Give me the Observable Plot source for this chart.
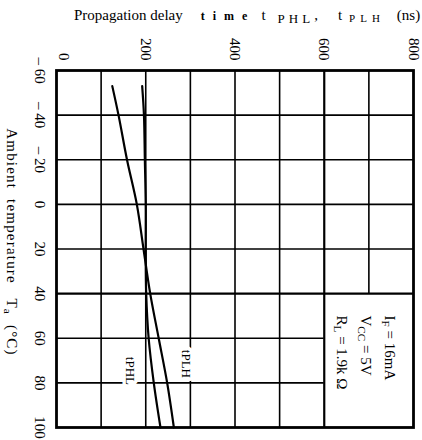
<!DOCTYPE html>
<html>
<head>
<meta charset="utf-8">
<script src="https://cdn.jsdelivr.net/npm/d3@7"></script>
<script src="https://cdn.jsdelivr.net/npm/@observablehq/plot@0.6"></script>
<style>
  html, body { margin: 0; padding: 0; background: #fff; }
  #chart { width: 422px; height: 440px; overflow: hidden; font-family: "Liberation Serif", "Times New Roman", "DejaVu Serif", serif; color: #000; }
  #title { height: 30px; line-height: 30px; font-size: 15px; white-space: nowrap; overflow: hidden; padding-left: 74px; }
  #title .w { letter-spacing: 8px; font-size: 12px; font-weight: bold; margin-left: 18px; }
  #title .t1 { margin-left: 6px; }
  #title .s1 { font-size: 13px; line-height: 0; vertical-align: -3px; letter-spacing: 4px; margin-left: 12px; }
  #title .t2 { margin-left: 20px; }
  #title .s2 { font-size: 11px; line-height: 0; vertical-align: -2px; letter-spacing: 5px; margin-left: 7px; }
  #title .u { margin-left: 12px; }
  svg { display: block; }
</style>
</head>
<body>
<div id="chart">
  <div id="title">Propagation delay<span class="w">time</span><span class="t1">t</span><span class="s1">PHL</span>,<span class="t2">t</span><span class="s2">PLH</span><span class="u">(ns)</span></div>
</div>
<script>
// Ambient temperature (°C) at which the delay curves are sampled
const temps = [-53, -40, -20, 0, 20, 40, 60, 80, 100];
// Propagation delay (ns), high-to-low and low-to-high transitions
const tPHL = [192, 196, 198, 200, 200, 201, 206.5, 218, 233];
const tPLH = [125, 139, 158, 180, 195, 210, 229, 248, 263];

// Axis ticks and grid
const delayTicks = [0, 200, 400, 600, 800];
const delayGrid = [100, 200, 300, 400, 500, 600, 700];
const tempTicks = [-60, -40, -20, 0, 20, 40, 60, 80, 100];
const tempTickLabels = ["– 60", "– 40", "– 20", "0", "20", "40", "60", "80", "100"];
const tempGrid = [-40, -20, 0, 20, 40, 60, 80];

// Series names and test conditions ({...} marks a subscript)
const seriesNames = ["tPHL", "tPLH"];
const conditions = ["I{F} = 16mA", "V{CC} = 5V", "R{L} = 1.9k Ω"];
const tempLabel = "Ambient\u00a0 temperature\u00a0\u00a0 T{a}\u00a0 (°C)";

const serif = '"Liberation Serif", "Times New Roman", "DejaVu Serif", serif';

const seriesValues = [tPHL, tPLH];
const curves = seriesNames.flatMap((name, s) =>
  temps.map((t, i) => ({series: name, temp: t, delay: seriesValues[s][i]}))
);
// curve labels sit next to each curve's 80 °C point
const labelTemp = 80;
const labels = seriesNames.map((name, s) => ({
  series: name, temp: labelTemp, delay: seriesValues[s][temps.indexOf(labelTemp)]
}));

const tickText = {frameAnchor: "top", dy: -10, rotate: 90, textAnchor: "end", lineAnchor: "middle", text: d => String(d), fontSize: 15, fill: "#000"};

const plot = Plot.plot({
  width: 422,
  height: 410,
  marginTop: 40,
  marginBottom: 13,
  marginLeft: 56,
  marginRight: 9,
  x: {domain: [0, 800], axis: null},
  y: {domain: [-60, 100], reverse: true, axis: null},
  style: {fontFamily: serif, fontSize: "15px", background: "#fff", color: "#000", overflow: "visible"},
  marks: [
    // grid; the lower-right cell block is left open for the test conditions
    Plot.ruleX(delayGrid, {x: d => d, y1: -60, y2: d => d > 600 ? 40 : 100, stroke: "#000", strokeWidth: d => d === 600 ? 2.2 : 1.6}),
    Plot.ruleY(tempGrid, {y: d => d, x1: 0, x2: d => d > 40 ? 600 : 800, stroke: "#000", strokeWidth: d => d === 40 ? 2.2 : 1.6}),
    Plot.frame({stroke: "#000", strokeWidth: 2.8}),
    Plot.line(curves, {x: "delay", y: "temp", z: "series", curve: "catmull-rom", stroke: "#000", strokeWidth: 2.2}),
    // curve labels
    Plot.text([labels[0]], {x: "delay", y: "temp", text: "series", rotate: 90, textAnchor: "middle", lineAnchor: "middle", dx: -24, dy: -12, fontSize: 13, fill: "#000", stroke: "#fff", strokeWidth: 7}),
    Plot.text([labels[1]], {x: "delay", y: "temp", text: "series", rotate: 90, textAnchor: "middle", lineAnchor: "middle", dx: 19, dy: -19, fontSize: 13, fill: "#000", stroke: "#fff", strokeWidth: 7}),
    // delay tick labels along the top (the zero label is nudged clear of the frame)
    Plot.text(delayTicks.slice(0, 1), {x: d => d, ...tickText, dx: 7}),
    Plot.text(delayTicks.slice(1), {x: d => d, ...tickText}),
    // temperature tick labels down the left side
    Plot.text(tempTicks, {y: d => d, frameAnchor: "left", dx: -17, rotate: 90, textAnchor: "middle", lineAnchor: "middle", text: (d, i) => tempTickLabels[i], fontSize: 15, fill: "#000"}),
    // temperature axis title
    Plot.text([tempLabel], {frameAnchor: "left", dx: -45, dy: -7, rotate: 90, textAnchor: "middle", lineAnchor: "middle", text: d => d, fontSize: 15, fill: "#000"}),
    // test conditions
    Plot.text([conditions.join("\n")], {frameAnchor: "bottom-right", dx: -11, dy: -112, rotate: 90, textAnchor: "start", lineAnchor: "top", lineHeight: 1.6, text: d => d, fontSize: 15, fill: "#000"})
  ]
});

// the temperature title is set with a little tracking
plot.querySelectorAll("text").forEach(el => {
  if (el.textContent.startsWith("Ambient")) el.setAttribute("letter-spacing", "1.2");
});

// turn {...} runs into subscripts
const svgNS = "http://www.w3.org/2000/svg";
plot.querySelectorAll("text, tspan").forEach(el => {
  if (el.children.length) return;
  const s = el.textContent;
  if (!s.includes("{")) return;
  el.textContent = "";
  s.split(/(\{[^}]*\})/).filter(Boolean).forEach(p => {
    const t = document.createElementNS(svgNS, "tspan");
    if (p[0] === "{") {
      t.textContent = p.slice(1, -1);
      t.setAttribute("baseline-shift", "-3");
      t.setAttribute("font-size", "75%");
    } else {
      t.textContent = p;
    }
    el.appendChild(t);
  });
});

document.getElementById("chart").appendChild(plot);
</script>
</body>
</html>
